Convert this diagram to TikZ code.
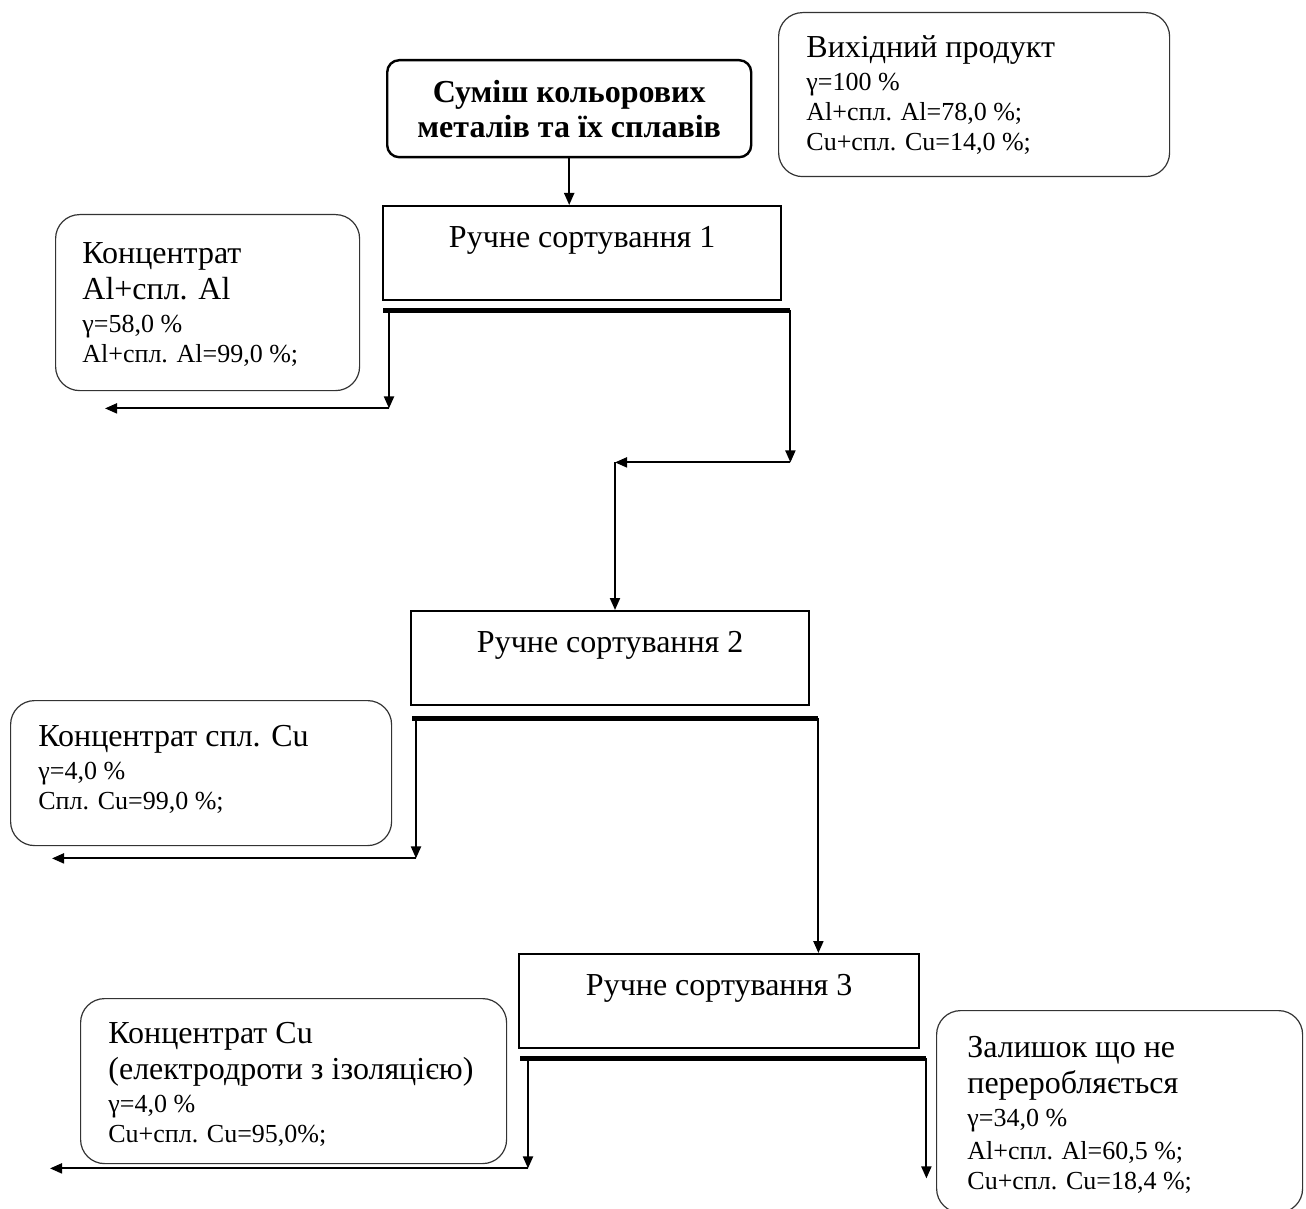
\documentclass[tikz,border=0pt]{standalone}
\usepackage{fontspec}
\setmainfont{Liberation Serif}
\usetikzlibrary{arrows.meta,positioning}

\newcommand{\bigtxt}{\fontsize{16}{18}\selectfont}

\tikzset{
  arr/.style={-{Triangle[length=6pt,width=5pt]}, line width=1pt},
  sortbox/.style={draw, line width=1.2pt, minimum width=199pt, minimum height=47pt,
    align=center, font=\fontsize{16}{16}\selectfont, anchor=north west},
  infobox/.style={draw=black!80, rounded corners=12pt, line width=0.6pt, anchor=north west},
  infotext/.style={anchor=base west, align=left, inner sep=0pt, font=\fontsize{13}{15}\selectfont},
  bar/.style={line width=2.5pt},
}

\begin{document}
\begin{tikzpicture}[x=0.5pt, y=-0.5pt]
\useasboundingbox (0,0) rectangle (1306,1209);

% feed and sorting stages
\node[draw, line width=1.2pt, rounded corners=6pt, minimum width=182pt, minimum height=48.5pt,
  align=center, font=\bfseries\fontsize{16}{17.5}\selectfont, anchor=north west]
  (mix) at (386,59) {Суміш кольорових\\металів та їх сплавів};
\node[sortbox, minimum width=199pt] (s1) at (382,205) {Ручне сортування 1\\\mbox{}};
\node[sortbox, minimum width=199pt] (s2) at (410,610) {Ручне сортування 2\\\mbox{}};
\node[sortbox, minimum width=200pt] (s3) at (518,953) {Ручне сортування 3\\\mbox{}};

% product boxes (text anchored on its last line)
\node[infobox, minimum width=195.5pt, minimum height=82pt] (inp) at (778,12) {};
\node[infotext] (inp-t) at ([shift={(28,139)}]inp.north west)
  {\bigtxt Вихідний продукт\\[1.5pt]γ=100 \%\\Al+спл. Al=78,0 \%;\\Cu+спл. Cu=14,0 \%;};
\node[infobox, minimum width=152pt, minimum height=88pt] (cAl) at (55,214) {};
\node[infotext] (cAl-t) at ([shift={(27,148)}]cAl.north west)
  {\bigtxt Концентрат\\[3pt]\bigtxt Al+спл. Al\\[1.5pt]γ=58,0 \%\\Al+спл. Al=99,0 \%;};
\node[infobox, minimum width=190.5pt, minimum height=72.5pt] (cSpl) at (10,700) {};
\node[infotext] (cSpl-t) at ([shift={(28,109)}]cSpl.north west)
  {\bigtxt Концентрат спл. Cu\\[1.5pt]γ=4,0 \%\\Спл. Cu=99,0 \%;};
\node[infobox, minimum width=213pt, minimum height=82.5pt] (cCu) at (80,998) {};
\node[infotext] (cCu-t) at ([shift={(28,144)}]cCu.north west)
  {\bigtxt Концентрат Cu\\[3pt]\bigtxt (електродроти з ізоляцією)\\[1.5pt]γ=4,0 \%\\Cu+спл. Cu=95,0\%;};
\node[infobox, minimum width=183pt, minimum height=101pt] (rest) at (936,1010) {};
\node[infotext] (rest-t) at ([shift={(31,179)}]rest.north west)
  {\bigtxt Залишок що не\\[3pt]\bigtxt переробляється\\[1.5pt]γ=34,0 \%\\[1.5pt]Al+спл. Al=60,5 \%;\\Cu+спл. Cu=18,4 \%;};

% split bars under each stage
\draw[bar] ([shift={(1,9)}]s1.south west) coordinate (b1l) -- ([shift={(8,9)}]s1.south east) coordinate (b1r);
\draw[bar] ([shift={(2,12)}]s2.south west) coordinate (b2l) -- ([shift={(8,12)}]s2.south east) coordinate (b2r);
\draw[bar] ([shift={(2,9)}]s3.south west) coordinate (b3l) -- ([shift={(6,9)}]s3.south east) coordinate (b3r);

% flows
\draw[arr] (mix.south) -- (mix.south |- s1.north);

\draw[arr] ([xshift=3]b1l) -- ++(0,98) coordinate (k1l);
\coordinate (o1) at (105,408);
\draw[arr] (k1l) -- (k1l -| o1);
\draw[arr] (b1r) -- ++(0,152) coordinate (k1r);
\coordinate (k1m) at (615,460);
\draw[arr] (k1r) -- (k1r -| k1m) coordinate (k1m);
\draw[arr] (k1m) -- (k1m |- s2.north);

\draw[arr] ([xshift=2]b2l) -- ++(0,140) coordinate (k2l);
\coordinate (o2) at (52,855);
\draw[arr] (k2l) -- (k2l -| o2);
\draw[arr] (b2r) -- (b2r |- s3.north);

\draw[arr] ([xshift=4]b3l) -- ++(0,110) coordinate (k3l);
\coordinate (o3) at (50,1165);
\draw[arr] (k3l) -- (k3l -| o3);
\draw[arr] (b3r) -- ++(0,120) coordinate (o4);
\end{tikzpicture}
\end{document}
